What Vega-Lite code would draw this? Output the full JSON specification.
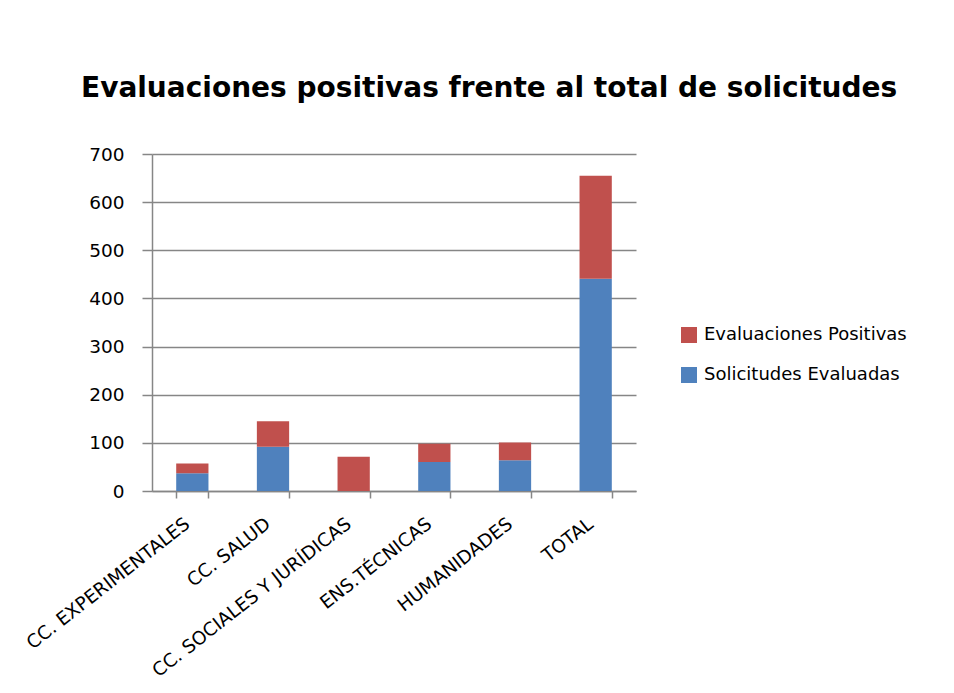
{
  "$schema": "https://vega.github.io/schema/vega-lite/v6.json",
  "width": 484,
  "height": 337,
  "autosize": {"type": "none"},
  "padding": {"left": 152, "top": 154, "right": 318, "bottom": 202},
  "background": "white",
  "title": {
    "text": "Evaluaciones positivas frente al total de solicitudes",
    "anchor": "start",
    "frame": "group",
    "dx": -71,
    "offset": 42,
    "font": "DejaVu Sans",
    "fontSize": 28,
    "fontWeight": "bold",
    "color": "#000000"
  },
  "data": {
    "values": [
      {"area": "CC. EXPERIMENTALES", "serie": "Solicitudes Evaluadas", "valor": 37},
      {"area": "CC. EXPERIMENTALES", "serie": "Evaluaciones Positivas", "valor": 20},
      {"area": "CC. SALUD", "serie": "Solicitudes Evaluadas", "valor": 92},
      {"area": "CC. SALUD", "serie": "Evaluaciones Positivas", "valor": 53},
      {"area": "CC. SOCIALES Y JURÍDICAS", "serie": "Solicitudes Evaluadas", "valor": 0},
      {"area": "CC. SOCIALES Y JURÍDICAS", "serie": "Evaluaciones Positivas", "valor": 71},
      {"area": "ENS.TÉCNICAS", "serie": "Solicitudes Evaluadas", "valor": 60},
      {"area": "ENS.TÉCNICAS", "serie": "Evaluaciones Positivas", "valor": 38},
      {"area": "HUMANIDADES", "serie": "Solicitudes Evaluadas", "valor": 64},
      {"area": "HUMANIDADES", "serie": "Evaluaciones Positivas", "valor": 37},
      {"area": "TOTAL", "serie": "Solicitudes Evaluadas", "valor": 441},
      {"area": "TOTAL", "serie": "Evaluaciones Positivas", "valor": 214}
    ]
  },
  "mark": {"type": "bar"},
  "encoding": {
    "x": {
      "field": "area",
      "type": "nominal",
      "sort": null,
      "scale": {"paddingInner": 0.6, "paddingOuter": 0.3},
      "axis": {
        "title": null,
        "labelAngle": -38,
        "labelFont": "DejaVu Sans",
        "labelFontSize": 18.5,
        "labelColor": "#000000",
        "labelPadding": 16,
        "labelOffset": -11,
        "labelLimit": 0,
        "labelOverlap": false,
        "tickBand": "extent",
        "tickSize": 7,
        "tickColor": "#868686",
        "tickWidth": 1.5,
        "domainColor": "#868686",
        "domainWidth": 1.5,
        "grid": false
      }
    },
    "y": {
      "field": "valor",
      "type": "quantitative",
      "stack": "zero",
      "scale": {"domain": [0, 700], "nice": false},
      "axis": {
        "title": null,
        "values": [0, 100, 200, 300, 400, 500, 600, 700],
        "labelFont": "DejaVu Sans",
        "labelFontSize": 18.5,
        "labelColor": "#000000",
        "labelPadding": 18,
        "tickSize": 10,
        "tickColor": "#868686",
        "tickWidth": 1.5,
        "domainColor": "#868686",
        "domainWidth": 1.5,
        "grid": true,
        "gridColor": "#868686",
        "gridWidth": 1.5
      }
    },
    "color": {
      "field": "serie",
      "type": "nominal",
      "scale": {
        "domain": ["Evaluaciones Positivas", "Solicitudes Evaluadas"],
        "range": ["#C0504D", "#4F81BD"]
      },
      "legend": {
        "title": null,
        "orient": "none",
        "legendX": 528,
        "legendY": 172,
        "symbolType": "square",
        "symbolSize": 256,
        "symbolStrokeWidth": 0,
        "labelFont": "DejaVu Sans",
        "labelFontSize": 18,
        "labelColor": "#000000",
        "labelOffset": 6,
        "labelLimit": 0,
        "rowPadding": 22
      }
    },
    "order": {"field": "serie", "sort": "descending"}
  },
  "config": {
    "view": {"stroke": null}
  }
}
